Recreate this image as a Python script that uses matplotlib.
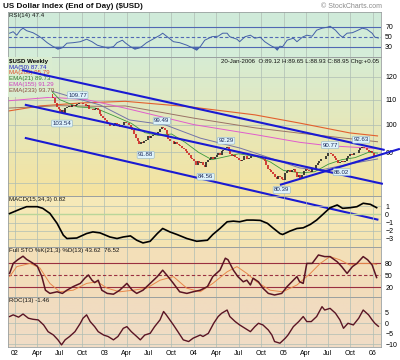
import numpy as np
import pandas as pd
import matplotlib
matplotlib.use("Agg")
import matplotlib.pyplot as plt
from matplotlib.patches import Rectangle
from matplotlib.colors import to_rgb

plt.rcParams["font.family"] = ["Liberation Sans", "DejaVu Sans"]

# ---- weekly closes, Fridays 30-Nov-2001 .. 20-Jan-2006 ----
close = [
    116.0,
    116.9, 115.9, 116.6, 116.8,
    # 2002
    117.8, 117.5, 118.8, 120.2,
    120.0, 119.4, 118.8, 119.7,
    119.8, 117.9, 118.2, 118.8, 119.2,
    118.5, 117.6, 116.2, 114.6,
    113.8, 113.2, 113.6, 112.3, 111.0,
    110.5, 108.6, 107.0, 106.1,
    104.8, 105.6, 104.2, 106.4,
    106.8, 107.4, 106.8, 107.6, 107.2,
    107.6, 108.0, 108.4, 108.6,
    108.2, 108.0, 107.4, 107.6,
    106.2, 106.0, 105.6, 106.0, 106.6,
    105.8, 104.0, 103.2, 102.4,
    # 2003
    101.8, 101.2, 100.8, 99.4, 99.6,
    100.2, 100.8, 100.4, 100.0,
    99.2, 99.8, 101.2, 100.6,
    100.8, 100.0, 99.0, 97.8,
    96.6, 95.0, 93.8, 93.0, 93.6,
    93.4, 93.8, 94.4, 95.8,
    95.2, 95.8, 96.2, 96.4,
    96.6, 97.2, 98.4, 99.0, 98.8,
    97.8, 96.6, 94.6, 94.0,
    93.8, 93.0, 93.6, 92.8, 92.4,
    92.2, 91.6, 91.0, 90.6,
    89.6, 89.0, 88.2, 87.6,
    # 2004
    87.2, 85.6, 87.0, 86.4, 86.6,
    85.8, 85.0, 86.6, 87.4,
    87.6, 88.4, 87.6, 88.4,
    89.0, 89.6, 89.2, 90.4, 90.8,
    91.4, 91.8, 90.6, 89.4,
    88.6, 89.2, 88.4, 88.0,
    87.4, 87.2, 87.4, 88.6, 88.8,
    87.8, 88.2, 88.6, 89.0,
    88.8, 88.4, 88.6, 88.8,
    88.0, 87.6, 87.0, 85.8, 84.4,
    84.2, 83.6, 83.0, 82.0,
    81.4, 82.2, 81.8, 81.2, 80.9,
    # 2005
    83.2, 83.8, 84.0, 83.6,
    84.2, 84.6, 83.4, 82.0,
    82.4, 81.4, 82.6, 83.8,
    84.4, 84.0, 83.8, 83.6, 84.4,
    84.6, 85.6, 86.4, 87.2,
    87.6, 87.8, 87.6, 88.6,
    89.6, 89.8, 89.4, 88.6, 88.0,
    87.4, 86.4, 86.8, 87.0,
    86.6, 87.2, 88.0, 88.8, 89.4,
    89.0, 89.8, 89.6, 89.6,
    90.8, 91.6, 91.8, 91.4,
    91.4, 90.8, 90.2, 90.6, 89.9,
    # 2006
    88.8, 88.9, 88.95,
]

# ---- moving averages (decimal year, value) ----
ma50_t = [2001.92, 2002.39, 2002.67, 2002.95, 2003.28, 2003.68, 2004.07, 2004.51, 2004.68, 2005.18, 2005.41, 2005.74, 2006.05]
ma50_v = [118.0, 113.9, 110.7, 107.8, 101.8, 99.9, 95.0, 91.5, 89.8, 84.8, 84.1, 86.1, 87.74]
ma200_t = [2001.92, 2002.28, 2002.73, 2003.23, 2003.96, 2004.68, 2005.18, 2005.74, 2006.05]
ma200_v = [105.3, 107.4, 108.6, 109.3, 107.0, 103.8, 100.6, 96.9, 95.8]
ema21_t = [2001.92, 2002.2, 2002.35, 2002.5, 2002.7, 2002.9, 2003.1, 2003.3, 2003.45, 2003.6, 2003.75,
           2003.9, 2004.05, 2004.2, 2004.35, 2004.5, 2004.7, 2004.85, 2005.0, 2005.2, 2005.35, 2005.5,
           2005.65, 2005.8, 2005.95, 2006.05]
ema21_v = [116.5, 118.5, 116.0, 110.0, 107.0, 106.5, 103.5, 100.5, 97.0, 96.0, 96.5,
           93.5, 90.0, 87.5, 88.5, 89.5, 88.5, 86.8, 84.0, 83.2, 83.6, 86.0,
           87.5, 88.2, 90.0, 89.73]
ema155_t = [2001.92, 2002.4, 2002.8, 2003.23, 2004.0, 2004.68, 2005.18, 2005.5, 2006.05]
ema155_v = [109.5, 111.0, 110.0, 106.5, 100.0, 96.3, 93.5, 92.3, 91.29]
ema233_t = [2001.92, 2002.5, 2003.0, 2003.23, 2004.0, 2004.68, 2005.18, 2005.74, 2006.05]
ema233_v = [106.5, 107.5, 107.2, 107.4, 102.5, 98.8, 96.8, 94.8, 93.70]

# ---- trend channel lines (start/end) ----
trend_t = [[2002.08, 2006.13], [2002.11, 2006.11], [2002.11, 2006.06], [2004.96, 2006.30]]
trend_v = [[123.1, 90.8], [107.9, 79.8], [95.1, 69.6], [79.5, 91.2]]

# ---- swing labels ----
swing_t = [2002.70, 2002.525, 2003.64, 2003.46, 2004.36, 2004.13, 2004.98, 2005.52, 2005.65, 2005.866]
swing_v = [109.77, 103.54, 99.49, 91.88, 92.29, 84.56, 80.39, 90.77, 86.02, 92.63]
swing_hi = [True, False, True, False, True, False, False, True, False, True]

# ---- RSI(14) ----
rsi_t = [2001.94, 2001.98, 2002.02, 2002.06, 2002.09, 2002.13, 2002.20, 2002.25, 2002.30, 2002.36,
         2002.42, 2002.48, 2002.53, 2002.58, 2002.65, 2002.73, 2002.80, 2002.86, 2002.92, 2002.98,
         2003.04, 2003.10, 2003.14, 2003.20, 2003.23, 2003.29, 2003.34, 2003.40, 2003.47, 2003.54,
         2003.62, 2003.65, 2003.70, 2003.77, 2003.84, 2003.92, 2003.99, 2004.03, 2004.07, 2004.12,
         2004.20, 2004.27, 2004.32, 2004.37, 2004.40, 2004.48, 2004.51, 2004.57, 2004.63, 2004.68,
         2004.74, 2004.79, 2004.85, 2004.91, 2004.93, 2004.96, 2004.99, 2005.04, 2005.11, 2005.15,
         2005.21, 2005.26, 2005.32, 2005.37, 2005.43, 2005.49, 2005.52, 2005.58, 2005.63, 2005.66,
         2005.71, 2005.77, 2005.82, 2005.88, 2005.93, 2005.99, 2006.02, 2006.06]
rsi_v = [57, 60, 53, 63, 67, 62, 58, 53, 47, 38,
         31, 25, 28, 37, 38, 40, 45, 40, 33, 30,
         27, 30, 38, 43, 38, 30, 25, 28, 38, 45,
         53, 57, 50, 40, 38, 33, 27, 23, 30, 43,
         50, 51, 57, 57, 50, 45, 40, 50, 53, 47,
         49, 40, 33, 27, 23, 31, 30, 43, 47, 40,
         49, 53, 51, 63, 67, 69, 71, 63, 53, 49,
         57, 58, 62, 67, 65, 57, 49, 47.4]

# ---- MACD(15,34,3) ----
macd_t = [2001.94, 2002.06, 2002.13, 2002.25, 2002.31, 2002.39, 2002.47, 2002.54, 2002.58, 2002.69,
          2002.80, 2002.87, 2002.95, 2003.06, 2003.14, 2003.21, 2003.29, 2003.36, 2003.43, 2003.51,
          2003.59, 2003.65, 2003.73, 2003.81, 2003.92, 2004.03, 2004.15, 2004.21, 2004.29, 2004.37,
          2004.44, 2004.51, 2004.59, 2004.66, 2004.74, 2004.82, 2004.88, 2004.96, 2004.99, 2005.07,
          2005.15, 2005.22, 2005.30, 2005.37, 2005.44, 2005.52, 2005.60, 2005.66, 2005.74, 2005.82,
          2005.89, 2005.97, 2006.04]
macd_v = [0.1, 0.65, 0.94, 0.94, 0.74, 0.12, -1.1, -2.55, -2.96, -2.9,
          -2.35, -2.15, -2.27, -2.77, -2.96, -2.77, -2.64, -3.17, -3.5, -3.3,
          -2.35, -1.73, -2.15, -2.47, -2.96, -3.3, -3.17, -2.47, -1.73, -0.91,
          -0.83, -0.91, -0.7, -0.7, -0.74, -1.1, -1.65, -2.35, -2.47, -2.06,
          -1.73, -1.65, -1.23, -0.7, 0.0, 0.81, 1.15, 0.74, 0.81, 0.94,
          1.36, 1.23, 0.82]

# ---- Full STO %K(21,3) and %D(13) ----
stok_t = [2001.94, 2001.98, 2002.03, 2002.09, 2002.13, 2002.19, 2002.25, 2002.30, 2002.34, 2002.39,
          2002.47, 2002.53, 2002.58, 2002.65, 2002.73, 2002.78, 2002.82, 2002.86, 2002.89, 2002.93,
          2002.97, 2003.03, 2003.10, 2003.17, 2003.25, 2003.31, 2003.36, 2003.43, 2003.51, 2003.59,
          2003.65, 2003.71, 2003.77, 2003.84, 2003.92, 2003.99, 2004.07, 2004.15, 2004.21, 2004.29,
          2004.35, 2004.38, 2004.44, 2004.49, 2004.55, 2004.59, 2004.63, 2004.66, 2004.72, 2004.77,
          2004.83, 2004.90, 2004.98, 2005.04, 2005.11, 2005.15, 2005.18, 2005.22, 2005.26, 2005.32,
          2005.39, 2005.46, 2005.52, 2005.60, 2005.65, 2005.71, 2005.77, 2005.82, 2005.89, 2005.94,
          2005.99, 2006.04]
stok_v = [54, 79, 88, 97, 89, 81, 72, 46, 12, 4,
          8, 4, 12, 21, 29, 42, 50, 37, 31, 37,
          12, 4, 2, 12, 29, 12, 4, 12, 29, 46,
          62, 46, 29, 8, 4, 8, 12, 21, 46, 62,
          92, 88, 62, 46, 33, 37, 25, 42, 33, 17,
          4, 0, 4, 21, 37, 46, 33, 29, 79, 79,
          100, 96, 96, 83, 71, 54, 71, 79, 96, 88,
          75, 43.62]
stod_t = [2001.94, 2002.02, 2002.17, 2002.28, 2002.39, 2002.50, 2002.65, 2002.80, 2002.92, 2003.03,
          2003.17, 2003.32, 2003.47, 2003.62, 2003.77, 2003.92, 2004.07, 2004.21, 2004.37, 2004.48,
          2004.59, 2004.70, 2004.85, 2004.99, 2005.15, 2005.30, 2005.41, 2005.52, 2005.63, 2005.74,
          2005.85, 2005.97, 2006.04]
stod_v = [46, 71, 79, 67, 29, 8, 12, 29, 33, 17,
          8, 12, 17, 37, 46, 17, 8, 29, 58, 71,
          54, 33, 12, 8, 25, 54, 79, 96, 88, 75,
          79, 79, 76.52]

# ---- ROC(13) ----
roc_t = [2001.94, 2001.98, 2002.04, 2002.09, 2002.15, 2002.20, 2002.26, 2002.32, 2002.37, 2002.43,
         2002.48, 2002.52, 2002.56, 2002.61, 2002.67, 2002.73, 2002.76, 2002.80, 2002.84, 2002.89,
         2002.93, 2002.99, 2003.04, 2003.10, 2003.15, 2003.21, 2003.25, 2003.30, 2003.36, 2003.40,
         2003.45, 2003.51, 2003.56, 2003.62, 2003.66, 2003.69, 2003.73, 2003.77, 2003.82, 2003.88,
         2003.94, 2003.99, 2004.07, 2004.10, 2004.16, 2004.22, 2004.27, 2004.31, 2004.37, 2004.40,
         2004.46, 2004.51, 2004.57, 2004.63, 2004.68, 2004.72, 2004.77, 2004.83, 2004.87, 2004.90,
         2004.96, 2005.02, 2005.05, 2005.11, 2005.17, 2005.22, 2005.26, 2005.31, 2005.37, 2005.43,
         2005.46, 2005.52, 2005.58, 2005.63, 2005.67, 2005.72, 2005.78, 2005.84, 2005.89, 2005.95,
         2005.99, 2006.02, 2006.06]
roc_v = [3.2, 4.0, 2.9, 4.4, 2.4, 1.9, 1.6, -0.8, -4.0, -5.6,
         -7.9, -10.3, -7.9, -6.3, -4.0, 0.0, 2.4, 4.0, 0.8, -1.6,
         -4.0, -5.6, -6.3, -7.9, -6.3, -2.4, -1.6, -4.0, -6.3, -7.9,
         -5.6, -4.8, -1.6, 1.6, 5.6, 4.0, 1.6, -0.8, -4.0, -7.9,
         -8.7, -7.1, -5.6, -6.3, -4.8, 0.0, 3.2, 4.8, 6.3, 3.2,
         0.8, -0.8, -2.4, -4.0, -1.6, 0.0, -0.8, -3.2, -5.6, -8.7,
         -9.5, -7.1, -5.6, -1.6, 0.8, 3.2, 0.8, 0.8, 3.2, 7.9,
         6.3, 7.1, 4.8, 1.6, -2.4, 0.0, -0.8, 2.4, 6.3, 4.0,
         1.6, 0.0, -1.46]

x_labels = ["02", "Apr", "Jul", "Oct", "03", "Apr", "Jul", "Oct", "04", "Apr", "Jul", "Oct",
            "05", "Apr", "Jul", "Oct", "06"]

# ---------------------------------------------------------------
W, H = 400, 360
fig = plt.figure(figsize=(W / 100, H / 100), dpi=100)
fig.patch.set_facecolor("white")

X0, X1 = 8, 381
XMIN, XMAX = 2001.922, 2006.089

dates = pd.date_range(end="2006-01-20", periods=len(close), freq="W-FRI")
wk_t = np.asarray(dates.year + (dates.dayofyear - 1) / 365.25)
close_a = np.array(close)

q_ts = pd.date_range("2002-01-01", "2006-01-01", freq="QS")
q_t = np.asarray(q_ts.year + (q_ts.dayofyear - 1) / 365.25)

GRID = "#aebdb4"


def panel(top, bottom, c_top, c_bot):
    rect = [X0 / W, 1 - bottom / H, (X1 - X0) / W, (bottom - top) / H]
    bg = fig.add_axes(rect, zorder=0)
    g = np.linspace(0, 1, 64)[:, None, None]
    img = np.array(to_rgb(c_top))[None, None, :] * (1 - g) + np.array(to_rgb(c_bot))[None, None, :] * g
    bg.imshow(img, aspect="auto", extent=[0, 1, 0, 1])
    bg.set_axis_off()
    ax = fig.add_axes(rect, zorder=1)
    ax.patch.set_alpha(0)
    ax.set_xlim(XMIN, XMAX)
    for s in ax.spines.values():
        s.set_color("#9aa0a0")
        s.set_linewidth(0.6)
    ax.yaxis.tick_right()
    ax.tick_params(axis="y", length=0, pad=3, labelsize=5)
    ax.tick_params(axis="x", length=0)
    ax.set_xticks(q_t)
    ax.set_xticklabels([])
    for t in q_t:
        ax.axvline(t, color=GRID, lw=0.5, zorder=1)
    return ax


def label(ax, txt):
    ax.text(0.004, 0.985, txt, transform=ax.transAxes, fontsize=4.4,
            va="top", ha="left", color="#111111", zorder=8)


# ---- RSI ----
ax_rsi = panel(12, 57, "#cfeada", "#d5eed9")
ax_rsi.set_ylim(9.4, 99.4)
ax_rsi.set_yticks([30, 50, 70])
for lv, ls in [(70, "-"), (30, "-"), (50, (0, (3, 2)))]:
    ax_rsi.axhline(lv, color="#5068b4", lw=0.8, ls=ls, zorder=2)
rsi_a = np.array(rsi_v)
ax_rsi.fill_between(rsi_t, rsi_a, 30, where=rsi_a < 30, interpolate=True, color="#4a66b0", lw=0, zorder=3)
ax_rsi.fill_between(rsi_t, rsi_a, 70, where=rsi_a > 70, interpolate=True, color="#4a66b0", lw=0, zorder=3)
ax_rsi.plot(rsi_t, rsi_v, color="#4460a8", lw=0.7, zorder=4)
label(ax_rsi, "RSI(14) 47.4")

# ---- main price panel ----
ax = panel(57, 196, "#d6ecd4", "#f6e39f")
ax.set_yscale("log")
ax.set_ylim(76.2, 129.4)
ax.set_yticks([90, 100, 110, 120])
ax.set_yticklabels(["90", "100", "110", "120"])
ax.yaxis.set_minor_locator(matplotlib.ticker.NullLocator())
ax.tick_params(axis="y", which="both", length=0, pad=3, labelsize=5)
for lv in [80, 90, 100, 110, 120]:
    ax.axhline(lv, color=GRID, lw=0.5, zorder=1)

prev = np.concatenate([[close_a[0]], close_a[:-1]])
lo = np.minimum(prev, close_a)
hi = np.maximum(prev, close_a)
cols = np.where(close_a < prev, "#cc2020", "#222222")
ax.vlines(wk_t, lo, hi, colors=cols, lw=1.2, zorder=3)

ax.plot(ma200_t, ma200_v, color="#e2602e", lw=0.8, zorder=2)
ax.plot(ema233_t, ema233_v, color="#9a7266", lw=0.7, zorder=2)
ax.plot(ema155_t, ema155_v, color="#e05ccc", lw=0.7, zorder=2)
ax.plot(ma50_t, ma50_v, color="#7474a8", lw=0.7, zorder=2)
ax.plot(ema21_t, ema21_v, color="#3c9a3c", lw=0.6, zorder=2)

# legend box hides the first months, as on the original
ax.add_patch(Rectangle((0, 0.715), 0.118, 0.285, transform=ax.transAxes,
                       facecolor="#d9ecd0", edgecolor="none", zorder=5))
leg = [("$USD Weekly", "#000000", "bold"),
       ("MA(50) 87.74", "#2020c0", "normal"),
       ("MA(200) 95.79", "#e0502a", "normal"),
       ("EMA(21) 89.73", "#2c7a2c", "normal"),
       ("EMA(155) 91.29", "#d040c0", "normal"),
       ("EMA(233) 93.70", "#8a4a3a", "normal")]
for i, (txt, c, w) in enumerate(leg):
    ax.text(0.004, 0.985 - i * 0.041, txt, transform=ax.transAxes, fontsize=4.4,
            color=c, weight=w, va="top", ha="left", zorder=6)

ax.text(0.995, 0.985, "20-Jan-2006  O:89.12 H:89.65 L:88.93 C:88.95 Chg:+0.05",
        transform=ax.transAxes, fontsize=4.4, va="top", ha="right", color="#111111", zorder=6)

for tt, tv in zip(trend_t, trend_v):
    ax.plot(tt, tv, color="#1a1ad2", lw=1.5, zorder=7, clip_on=False, solid_capstyle="butt")

for t, v, up in zip(swing_t, swing_v, swing_hi):
    ax.annotate(f"{v:.2f}", (t, v), xytext=(0, 5 if up else -8), textcoords="offset pixels",
                ha="center", va="center", fontsize=4.4, color="#1c2a5a", zorder=8,
                bbox=dict(boxstyle="round,pad=0.15", fc="#dff3fb", ec="#8fb4cc", lw=0.4))

# ---- MACD ----
ax_m = panel(196, 247, "#f7eab9", "#f4e4b2")
ax_m.set_ylim(-4.0, 2.25)
ax_m.set_yticks([1, 0, -1, -2, -3])
for lv in [1, -1, -2, -3]:
    ax_m.axhline(lv, color=GRID, lw=0.5, zorder=1)
ax_m.axhline(0, color="#b9d69a", lw=1.0, zorder=1)
ax_m.plot(macd_t, macd_v, color="#000000", lw=1.2, zorder=4)
label(ax_m, "MACD(15,34,3) 0.82")

# ---- Full STO ----
ax_s = panel(247, 297, "#f4e0b8", "#f2dcbc")
ax_s.set_ylim(-5, 120)
ax_s.set_yticks([80, 50, 20])
for lv, ls in [(80, "-"), (20, "-"), (50, (0, (3, 2)))]:
    ax_s.axhline(lv, color="#9a3040", lw=0.8, ls=ls, zorder=2)
ax_s.plot(stod_t, stod_v, color="#e8884a", lw=0.7, zorder=3)
ax_s.plot(stok_t, stok_v, color="#5a1424", lw=1.1, zorder=4)
label(ax_s, "Full STO %K(21,3) %D(13) 43.62  76.52")

# ---- ROC ----
ax_r = panel(297, 347, "#f2dcbf", "#f0dcc6")
ax_r.set_ylim(-11.3, 12.5)
ax_r.set_yticks([5, 0, -5, -10])
for lv in [5, 0, -5, -10]:
    ax_r.axhline(lv, color=GRID, lw=0.5, zorder=1)
ax_r.plot(roc_t, roc_v, color="#5a1424", lw=1.0, zorder=4)
label(ax_r, "ROC(13) -1.46")
ax_r.set_xticklabels(x_labels)
ax_r.tick_params(axis="x", labelsize=5, pad=2)

# ---- header ----
fig.text(3 / W, 1 - 7 / H, "US Dollar Index (End of Day) ($USD)", fontsize=5.9,
         weight="bold", va="center", ha="left", color="#111111")
fig.text(382 / W, 1 - 6 / H, "\u00a9 StockCharts.com", fontsize=5, va="center", ha="right",
         color="#8a8a8a")

fig.savefig("out.png", dpi=100)
